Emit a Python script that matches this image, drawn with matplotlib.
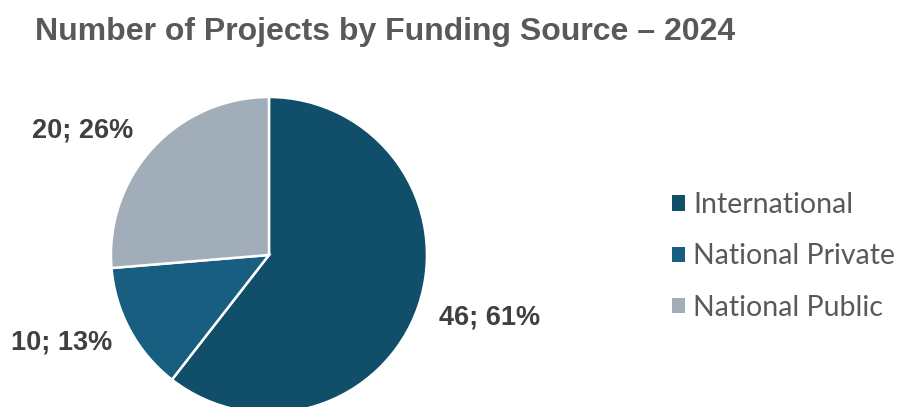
import numpy as np
import matplotlib.pyplot as plt
from matplotlib.patches import Patch

# progetti per fonte di finanziamento
categories = ['International', 'National Private', 'National Public']
counts = [46, 10, 20]
percents = [61, 13, 26]
colors = ['#104E6A', '#175E80', '#A1AEB9']

fig = plt.figure(figsize=(8.97, 4.07), dpi=100)
fig.patch.set_facecolor('white')

ax = fig.add_axes([0.1237, -0.0147, 0.3523, 0.7764])
wedges, _ = ax.pie(counts, colors=colors, startangle=90, counterclock=False,
                   radius=1, wedgeprops=dict(edgecolor='white', linewidth=1.8))
ax.set_xlim(-1, 1)
ax.set_ylim(-1, 1)
ax.set_aspect('equal')
ax.axis('off')

# etichette fuori dalle fette
dists = [1.45, 1.425, 1.42]
shift = [3, -5.5, 9]
for w, c, p, d, s in zip(wedges, counts, percents, dists, shift):
    ang = np.deg2rad((w.theta1 + w.theta2) / 2 + s)
    ax.text(d * np.cos(ang), d * np.sin(ang), f'{c}; {p}%', ha='center', va='center',
            fontsize=19.5, fontweight='bold', color='#404040', family='Liberation Sans',
            clip_on=False)

fig.text(0.039, 0.921, 'Number of Projects by Funding Source – 2024', fontsize=23,
         fontweight='bold', color='#595959', family='Liberation Sans', va='center')

handles = [Patch(facecolor=c, edgecolor='none') for c in colors]
fig.legend(handles, categories, loc='center left', bbox_to_anchor=(0.749, 0.370),
           frameon=False, prop={'family': 'Lato', 'size': 20.5}, labelcolor='#595959',
           handlelength=0.46, handleheight=0.46, handletextpad=0.28, labelspacing=0.89,
           borderpad=0, borderaxespad=0)

fig.savefig('out.png', dpi=100)
